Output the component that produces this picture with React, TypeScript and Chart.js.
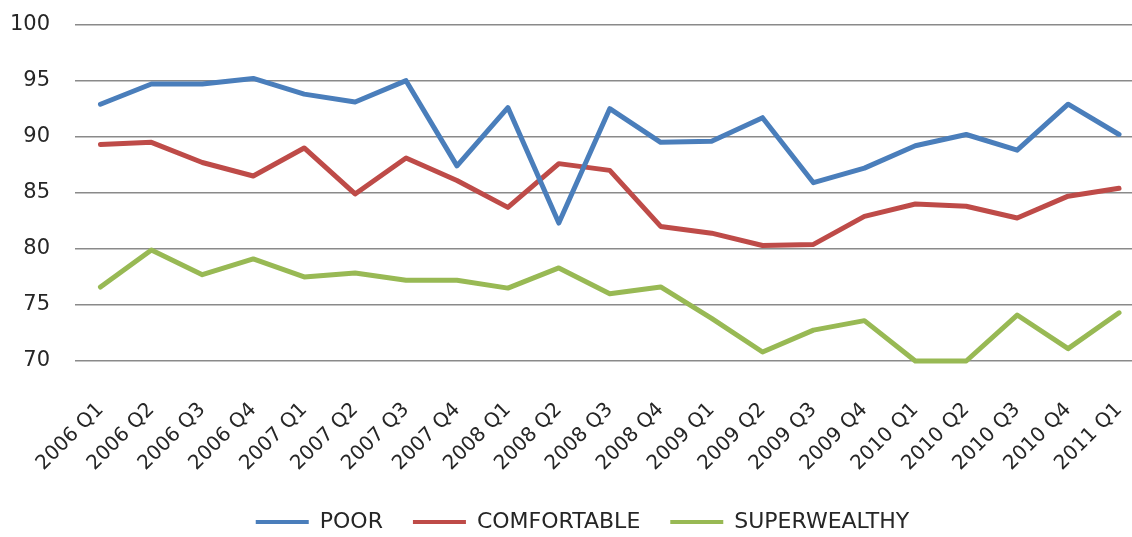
import React, { useEffect, useRef } from "react";
import { Chart, registerables } from "chart.js";

Chart.register(...registerables);

const categories = [
  "2006 Q1", "2006 Q2", "2006 Q3", "2006 Q4",
  "2007 Q1", "2007 Q2", "2007 Q3", "2007 Q4",
  "2008 Q1", "2008 Q2", "2008 Q3", "2008 Q4",
  "2009 Q1", "2009 Q2", "2009 Q3", "2009 Q4",
  "2010 Q1", "2010 Q2", "2010 Q3", "2010 Q4",
  "2011 Q1",
];

const poor = [92.9, 94.7, 94.7, 95.2, 93.8, 93.1, 95.0, 87.4, 92.6, 82.3, 92.5, 89.5, 89.6, 91.7, 85.9, 87.2, 89.2, 90.2, 88.8, 92.9, 90.2];
const comfortable = [89.3, 89.5, 87.7, 86.5, 89.0, 84.9, 88.1, 86.1, 83.7, 87.6, 87.0, 82.0, 81.4, 80.3, 80.4, 82.9, 84.0, 83.8, 82.75, 84.7, 85.4];
const superwealthy = [76.6, 79.9, 77.7, 79.1, 77.5, 77.85, 77.2, 77.2, 76.5, 78.3, 76.0, 76.6, 73.8, 70.8, 72.75, 73.6, 70.0, 70.0, 74.1, 71.1, 74.3];

const seriesNames = ["POOR", "COMFORTABLE", "SUPERWEALTHY"];
const seriesColors = ["#4a7ebb", "#be4b48", "#98b954"];

const yMin = 70;
const yMax = 100;
const yStep = 5;

const FONT = "'DejaVu Sans', sans-serif";
const TEXT = "#262626";

const CANVAS_W = 1165;
const CANVAS_H = 556;
const CANVAS_TOP = -13;

export default function App() {
  const ref = useRef<HTMLCanvasElement | null>(null);

  useEffect(() => {
    if (!ref.current) return;
    const values = [poor, comfortable, superwealthy];
    const chart = new Chart(ref.current, {
      type: "line",
      data: {
        labels: categories,
        datasets: values.map((v, i) => ({
          label: seriesNames[i],
          data: v,
          borderColor: seriesColors[i],
          backgroundColor: seriesColors[i],
          borderWidth: 5,
          pointRadius: 0,
          pointHoverRadius: 0,
          tension: 0,
          fill: false,
          clip: false as any,
          borderJoinStyle: "round" as const,
          borderCapStyle: "round" as const,
        })),
      },
      options: {
        responsive: false,
        animation: false,
        devicePixelRatio: 1,
        layout: { padding: { top: 24, left: 0, right: 0, bottom: 0 } },
        plugins: {
          tooltip: { enabled: false },
          legend: {
            position: "bottom",
            labels: {
              boxWidth: 53,
              boxHeight: 4,
              padding: 30,
              color: TEXT,
              font: { family: FONT, size: 22 },
              generateLabels: (c: any) => {
                const items = Chart.defaults.plugins.legend.labels.generateLabels(c);
                return items.map((it: any) => ({ ...it, lineWidth: 0, fillStyle: it.strokeStyle }));
              },
            },
          },
        },
        scales: {
          x: {
            offset: true,
            grid: { display: false },
            border: { display: false },
            afterFit: (s: any) => { s.height = 120; },
            ticks: {
              autoSkip: false,
              minRotation: 45,
              maxRotation: 45,
              padding: 29,
              color: TEXT,
              font: { family: FONT, size: 20 },
            },
          },
          y: {
            min: yMin,
            max: yMax,
            border: { display: false },
            afterFit: (s: any) => { s.width = 75; },
            grid: { color: "#8a8a8a", lineWidth: 1.5, drawTicks: false },
            ticks: {
              stepSize: yStep,
              padding: 25,
              color: TEXT,
              font: { family: FONT, size: 21 },
            },
          },
        },
      },
    });
    return () => chart.destroy();
  }, []);

  return (
    <div style={{ position: "fixed", left: 0, top: 0, width: 1132, height: 537, overflow: "hidden", background: "#fff" }}>
      <canvas
        ref={ref}
        width={CANVAS_W}
        height={CANVAS_H}
        style={{ position: "absolute", left: 0, top: CANVAS_TOP, width: CANVAS_W, height: CANVAS_H, display: "block" }}
      />
    </div>
  );
}
